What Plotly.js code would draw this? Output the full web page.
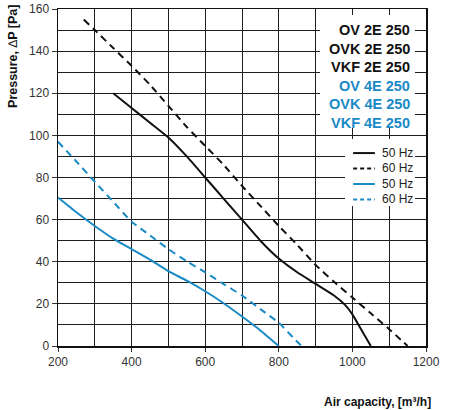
<!DOCTYPE html>
<html>
<head>
<meta charset="utf-8">
<script src="https://cdn.plot.ly/plotly-3.0.1.min.js"></script>
<style>
html,body{margin:0;padding:0;background:#fff;}
#chart{width:450px;height:410px;}
</style>
</head>
<body>
<div id="chart"></div>
<script>
// ---- data ----
var x2E50 = [350, 400, 450, 500, 550, 600, 650, 700, 750, 800, 850, 900, 950, 980, 1000, 1020, 1035, 1050];
var y2E50 = [120, 113, 106, 99, 90, 80, 70, 60, 50, 41.5, 35, 29.5, 24, 19.5, 15, 9, 4.5, 0];

var x2E60 = [270, 300, 350, 400, 450, 500, 550, 600, 650, 700, 750, 800, 850, 900, 950, 1000, 1050, 1100, 1150];
var y2E60 = [155, 150, 141.5, 133, 124, 114, 104, 95, 86, 76, 66.5, 57, 48, 38.5, 30.5, 23, 15.5, 8, 0];

var x4E50 = [200, 250, 300, 350, 400, 450, 500, 550, 600, 650, 700, 750, 800];
var y4E50 = [70.5, 63.5, 57, 51, 46, 41, 35.5, 31, 26, 20.3, 14, 7.4, 0];

var x4E60 = [200, 250, 300, 350, 400, 450, 500, 550, 600, 650, 700, 750, 800, 850, 862];
var y4E60 = [97, 87.6, 78, 68.5, 59, 52.5, 46, 40.2, 35, 29.4, 24, 17.5, 11, 2, 0];

var models2E = ["OV 2E 250", "OVK 2E 250", "VKF 2E 250"];
var models4E = ["OV 4E 250", "OVK 4E 250", "VKF 4E 250"];
var legendNames = ["50 Hz", "60 Hz", "50 Hz", "60 Hz"];

var xTicks = [200, 400, 600, 800, 1000, 1200];
var yTicks = [0, 20, 40, 60, 80, 100, 120, 140, 160];

// ---- styling ----
var BLACK = "#111111";
var BLUE = "#1a8ac6";
var DASH = "7px,5px";
var GRID = "#1e1e1e";
var FONT = "Liberation Sans, Arial, sans-serif";

var traces = [
  {x: x2E50, y: y2E50, mode: "lines", line: {color: BLACK, width: 2, shape: "spline", smoothing: 0.5}, name: legendNames[0], showlegend: false},
  {x: x2E60, y: y2E60, mode: "lines", line: {color: BLACK, width: 2, dash: DASH, shape: "spline", smoothing: 0.5}, name: legendNames[1], showlegend: false},
  {x: x4E50, y: y4E50, mode: "lines", line: {color: BLUE, width: 2, shape: "spline", smoothing: 0.5}, name: legendNames[2], showlegend: false},
  {x: x4E60, y: y4E60, mode: "lines", line: {color: BLUE, width: 2, dash: DASH, shape: "spline", smoothing: 0.5}, name: legendNames[3], showlegend: false}
];

// legend layout (data coordinates of the chart)
var modelRowsY = [150, 141.2, 132.4, 123.6, 114.8, 106];
var lineRowsY = [91.6, 84.3, 76.9, 69.6];
var legendColors = [BLACK, BLACK, BLUE, BLUE];

var shapes = [
  {type: "rect", xref: "x", yref: "y", x0: 912, x1: 1170, y0: 103.5, y1: 157.2, fillcolor: "#ffffff", line: {width: 0}, layer: "above"},
  {type: "rect", xref: "x", yref: "y", x0: 980, x1: 1170, y0: 66.5, y1: 98.3, fillcolor: "#ffffff", line: {width: 0}, layer: "above"}
];
for (var i = 0; i < 4; i++) {
  shapes.push({type: "line", xref: "x", yref: "y", x0: 1002, x1: 1061, y0: lineRowsY[i], y1: lineRowsY[i],
    line: {color: legendColors[i], width: 2, dash: i % 2 ? "4px,3px" : "solid"}, layer: "above"});
}

var annotations = [];
var models = models2E.concat(models4E);
for (var j = 0; j < models.length; j++) {
  annotations.push({x: 1163, y: modelRowsY[j], xref: "x", yref: "y", text: "<b>" + models[j] + "</b>",
    showarrow: false, xanchor: "right", yanchor: "middle",
    font: {family: FONT, size: 14.5, color: j < 3 ? BLACK : BLUE}});
}
for (var k = 0; k < 4; k++) {
  annotations.push({x: 1076, y: lineRowsY[k], xref: "x", yref: "y", text: legendNames[k],
    showarrow: false, xanchor: "left", yanchor: "middle",
    font: {family: FONT, size: 12, color: "#222"}});
}
// axis titles placed as in reference
annotations.push({xref: "paper", yref: "paper", x: -0.122, y: 0.858, xanchor: "center", yanchor: "middle",
  text: "<b>Pressure, </b>∆<b>P [Pa]</b>", textangle: -90, showarrow: false,
  font: {family: FONT, size: 12.5, color: "#111"}});
annotations.push({xref: "paper", yref: "paper", x: 1.02, y: -0.165, xanchor: "right", yanchor: "middle",
  text: "<b>Air capacity, [m³/h]</b>", showarrow: false,
  font: {family: FONT, size: 12, color: "#111"}});

var layout = {
  width: 450, height: 410,
  margin: {l: 58, r: 24, t: 9, b: 64},
  paper_bgcolor: "#fff", plot_bgcolor: "#fff",
  showlegend: false,
  font: {family: FONT, size: 12, color: "#333"},
  xaxis: {
    range: [200, 1200], tickvals: xTicks, ticktext: xTicks.map(String),
    showgrid: true, gridcolor: GRID, gridwidth: 1,
    minor: {dtick: 100, tick0: 200, showgrid: true, gridcolor: GRID, gridwidth: 1, ticks: ""},
    ticks: "outside", ticklen: 4, tickcolor: "#333",
    showline: true, linecolor: "#111", linewidth: 1.5, mirror: true,
    zeroline: false, fixedrange: true,
    tickfont: {family: FONT, size: 12, color: "#333"}
  },
  yaxis: {
    range: [0, 160], tickvals: yTicks, ticktext: yTicks.map(String),
    showgrid: true, gridcolor: GRID, gridwidth: 1,
    minor: {dtick: 10, tick0: 0, showgrid: true, gridcolor: GRID, gridwidth: 1, ticks: ""},
    ticks: "outside", ticklen: 5, tickcolor: "#333",
    showline: true, linecolor: "#111", linewidth: 1.5, mirror: true,
    zeroline: false, fixedrange: true,
    tickfont: {family: FONT, size: 12, color: "#333"}
  },
  shapes: shapes,
  annotations: annotations
};

Plotly.newPlot("chart", traces, layout, {displayModeBar: false, staticPlot: true});
</script>
</body>
</html>
